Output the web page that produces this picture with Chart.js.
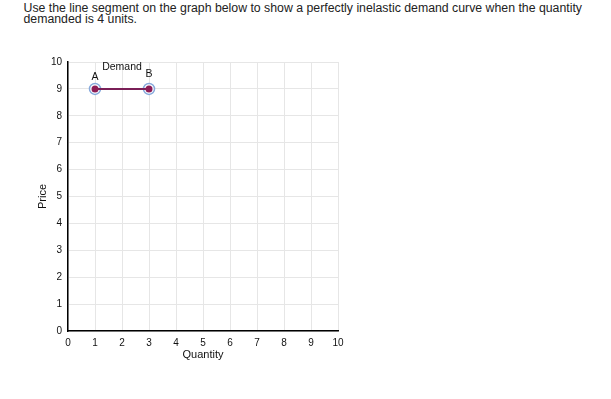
<!DOCTYPE html>
<html>
<head>
<meta charset="utf-8">
<script src="https://cdn.jsdelivr.net/npm/chart.js@4/dist/chart.umd.min.js"></script>
<style>
  body { margin: 0; background: #fff; font-family: "Liberation Sans", Arial, sans-serif; }
  #q { position: absolute; left: 23.5px; top: 3px; font-size: 12.3px; line-height: 11.2px; color: #222; }
  #wrap { position: absolute; left: 0; top: 50px; width: 360px; height: 330px; }
</style>
</head>
<body>
<div id="q">Use the line segment on the graph below to show a perfectly inelastic demand curve when the quantity<br>demanded is 4 units.</div>
<div id="wrap"><canvas id="grafik"></canvas></div>
<script>
// ================= DATA =================
const quantity = [1, 3];
const price = [9, 9];
const pointNames = ["A", "B"];
const nameY = [9.45, 9.55];
const lineName = "Demand";
const lineNameAt = [2, 9.8];
const tickValues = [0, 1, 2, 3, 4, 5, 6, 7, 8, 9, 10];

const pts = quantity.map((q, i) => ({ x: q, y: price[i] }));
const font = "Liberation Sans, Arial, sans-serif";

// ================= LABEL A / B / DEMAND =================
const labelPlugin = {
  id: "labelPlugin",
  afterDatasetsDraw(chart) {
    const { ctx, scales } = chart;
    ctx.save();
    ctx.fillStyle = "#111";
    ctx.font = "10.5px " + font;
    ctx.textAlign = "center";
    ctx.textBaseline = "middle";
    pointNames.forEach((n, i) => {
      ctx.fillText(n, scales.x.getPixelForValue(quantity[i]), scales.y.getPixelForValue(nameY[i]));
    });
    ctx.fillText(lineName, scales.x.getPixelForValue(lineNameAt[0]), scales.y.getPixelForValue(lineNameAt[1]));
    ctx.restore();
  },
};

// ================= GRAFIK =================
new Chart(document.getElementById("grafik"), {
  type: "scatter",
  data: {
    datasets: [
      {
        data: pts,
        showLine: true,
        borderColor: "#7a1f57",
        borderWidth: 2,
        pointRadius: 3.5,
        pointBackgroundColor: "#8c1c55",
        pointBorderColor: "#8c1c55",
        pointBorderWidth: 0,
        order: 1,
      },
      {
        data: pts,
        showLine: false,
        pointRadius: 5.5,
        pointBackgroundColor: "#ffffff",
        pointBorderColor: "#86a9dc",
        pointBorderWidth: 1.5,
        order: 2,
      },
    ],
  },
  options: {
    responsive: true,
    maintainAspectRatio: false,
    animation: false,
    layout: { padding: { left: 34, top: 11, right: 22, bottom: 0 } },
    plugins: { legend: { display: false }, tooltip: { enabled: false } },
    scales: {
      x: {
        type: "linear",
        min: 0,
        max: 10,
        afterFit: (s) => { s.height = 49; },
        afterBuildTicks: (s) => { s.ticks = tickValues.map((v) => ({ value: v })); },
        grid: { color: "#e6e6e6", drawTicks: false },
        border: { color: "#000", width: 1.5 },
        ticks: { color: "#111", padding: 6, font: { family: font, size: 10 } },
        title: { display: true, text: "Quantity", color: "#111", padding: { top: 0, bottom: 18 }, font: { family: font, size: 11 } },
      },
      y: {
        type: "linear",
        min: 0,
        max: 10,
        afterFit: (s) => { s.width = 34; },
        afterBuildTicks: (s) => { s.ticks = tickValues.map((v) => ({ value: v })); },
        grid: { color: "#e6e6e6", drawTicks: false },
        border: { color: "#000", width: 1.5 },
        ticks: { color: "#111", padding: 6, font: { family: font, size: 10 } },
        title: { display: true, text: "Price", color: "#111", padding: { top: 2, bottom: 0 }, font: { family: font, size: 11 } },
      },
    },
  },
  plugins: [labelPlugin],
});
</script>
</body>
</html>
